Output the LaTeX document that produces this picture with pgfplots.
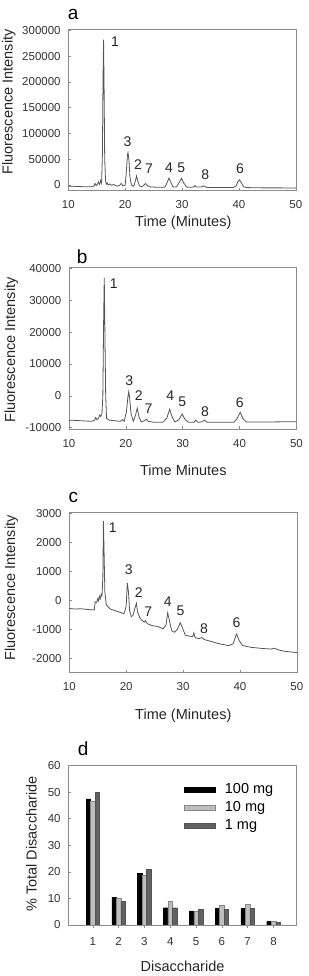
\documentclass[border=0pt]{standalone}
\usepackage{fontspec}
\setmainfont{Liberation Sans}
\usepackage{pgfplots}
\pgfplotsset{compat=1.18}
\definecolor{axgray}{HTML}{8C8C8C}
\definecolor{linegray}{HTML}{555555}
\definecolor{lightbar}{HTML}{BEBEBE}
\definecolor{lightedge}{HTML}{858585}
\definecolor{darkbar}{HTML}{626262}
\newcommand{\tickfont}{\fontsize{11.5bp}{13bp}\selectfont}
\newcommand{\labfont}{\fontsize{14.5bp}{16bp}\selectfont}
\newcommand{\pkfont}{\fontsize{14bp}{16bp}\selectfont}
\newcommand{\letfont}{\fontsize{19bp}{21bp}\selectfont}
\pgfplotsset{
  chrom/.style={
    scale only axis, width=227.5bp, anchor=south west,
    xmin=10, xmax=50, xtick={10,20,30,40,50},
    axis line style={axgray, line width=0.6bp},
    tick style={axgray, line width=0.6bp},
    tick align=inside, major tick length=2.5bp,
    minor tick num=0,
    xtick pos=bottom, ytick pos=left,
    ticklabel style={font=\tickfont, text=black!80},
    yticklabel style={inner sep=0pt, anchor=east, xshift=-7.5bp},
    xticklabel style={inner sep=0pt, anchor=north, yshift=-10bp},
    scaled ticks=false,
    /pgf/number format/fixed, /pgf/number format/1000 sep={}, /pgf/number format/assume math mode=true,
  },
}
\tikzset{pk/.style={font=\pkfont, text=black!85, inner sep=0pt}}
\begin{document}
\begin{tikzpicture}
\path[use as bounding box] (0,0) rectangle (309bp,976bp);
% ---------------- panel a
\begin{axis}[chrom, at={(68.3bp,785.3bp)}, height=161.4bp,
  ymin=-11000, ymax=302000, ytick={0,50000,100000,150000,200000,250000,300000}]
\addplot[linegray, line width=0.8bp] coordinates {
(10,-2000) (11,-2500) (12,-3000) (13,-3500) (14,-3500) (14.5,-2000) (14.7,3000) (14.9,-1000)
(15.1,1000) (15.3,6000) (15.5,1000) (15.7,9000) (15.85,4000) (16.0,60000) (16.1,200000)
(16.2,282000) (16.3,180000) (16.4,50000) (16.55,8000) (16.7,2000) (16.85,4000) (17.0,0)
(17.3,2000) (17.6,-500) (18,1000) (18.5,-2000) (19,-1000) (19.3,3000) (19.6,-2000) (20.0,0)
(20.2,25000) (20.4,58000) (20.5,63000) (20.65,50000) (20.85,15000) (21.1,0) (21.5,-2500)
(21.8,8000) (22.0,17500) (22.2,9000) (22.5,-2000) (23.0,-3000) (23.4,1000) (23.6,3000)
(23.8,0) (24.3,-3500) (25,-4000) (26,-4500) (27,-4000) (27.3,3000) (27.7,13500) (28.0,6000)
(28.4,-3500) (29,-4000) (29.4,3000) (29.9,13000) (30.3,4000) (30.8,-4000) (31.5,-4500)
(32.1,-3500) (32.3,-1000) (32.5,-4000) (33.3,-4000) (33.8,-1500) (34.3,-4500) (35,-5000)
(37,-5000) (39,-5000) (39.5,-2000) (39.8,6000) (40.1,10000) (40.4,5000) (40.8,-3500)
(41.5,-5000) (44,-5500) (47,-5500) (50,-6000)};
\node[pk] at (axis cs:18.2,278600) {1};
\node[pk] at (axis cs:20.4,85000) {3};
\node[pk] at (axis cs:22.25,40200) {2};
\node[pk] at (axis cs:24.2,31700) {7};
\node[pk] at (axis cs:27.7,34000) {4};
\node[pk] at (axis cs:29.85,34000) {5};
\node[pk] at (axis cs:34.1,21000) {8};
\node[pk] at (axis cs:40.2,31700) {6};
\end{axis}
% ---------------- panel b
\begin{axis}[chrom, at={(69bp,547bp)}, height=161.3bp,
  ymin=-10400, ymax=40200, ytick={-10000,0,10000,20000,30000,40000}]
\addplot[linegray, line width=0.8bp] coordinates {
(10,-7600) (12,-7800) (14,-8000) (14.5,-7600) (14.7,-6800) (14.9,-7500) (15.2,-7000)
(15.4,-6000) (15.6,-6500) (15.8,-5500) (15.95,0) (16.1,25000) (16.2,37000) (16.3,22000)
(16.45,0) (16.6,-7000) (17,-7600) (18,-7800) (19,-8000) (19.4,-7500) (19.7,-8000)
(20.1,-5000) (20.35,-500) (20.5,1300) (20.65,-500) (20.9,-5500) (21.3,-8000) (21.7,-6000)
(22.0,-3900) (22.3,-6500) (22.7,-8200) (23.3,-7800) (23.6,-7300) (23.9,-8000) (25,-8300)
(26.5,-8300) (27.2,-7000) (27.7,-4200) (28.1,-6500) (28.6,-8200) (29.3,-7500) (29.9,-5700)
(30.4,-7400) (31,-8300) (32,-8300) (32.3,-7600) (32.6,-8300) (33.3,-8200) (33.8,-7600)
(34.3,-8300) (36,-8300) (39,-8300) (39.6,-7000) (40.1,-5200) (40.6,-7200) (41.2,-8200)
(45,-8200) (50,-8100)};
\node[pk] at (axis cs:17.87,35300) {1};
\node[pk] at (axis cs:20.6,4800) {3};
\node[pk] at (axis cs:22.26,200) {2};
\node[pk] at (axis cs:23.97,-4040) {7};
\node[pk] at (axis cs:27.8,0) {4};
\node[pk] at (axis cs:29.9,-1850) {5};
\node[pk] at (axis cs:33.9,-4830) {8};
\node[pk] at (axis cs:40.04,-2200) {6};
\end{axis}
% ---------------- panel c
\begin{axis}[chrom, at={(69.3bp,303.7bp)}, height=159.6bp,
  ymin=-2480, ymax=3020, ytick={-2000,-1000,0,1000,2000,3000}]
\addplot[linegray, line width=0.8bp] coordinates {
(10,-280) (11,-300) (12,-290) (13,-310) (14,-330) (14.4,-320) (14.55,-50) (14.8,-80)
(15.0,60) (15.15,-20) (15.3,140) (15.45,50) (15.6,200) (15.75,150) (15.9,800) (16.0,2730)
(16.1,1800) (16.25,300) (16.5,-150) (16.8,-220) (17.2,-300) (18,-350) (19,-420) (19.6,-460)
(19.8,-350) (20.0,-200) (20.2,600) (20.4,300) (20.6,-350) (20.9,-560) (21.2,-520) (21.5,-300)
(21.8,-100) (22.0,-400) (22.4,-600) (22.8,-700) (23.2,-750) (23.4,-700) (23.7,-800)
(24.5,-870) (25.5,-900) (26.5,-980) (27.0,-850) (27.3,-430) (27.6,-700) (28.0,-1050)
(28.5,-1100) (29.0,-1000) (29.5,-770) (29.9,-950) (30.4,-1200) (31,-1230) (31.7,-1250)
(31.9,-1120) (32.1,-1280) (32.8,-1320) (33.3,-1280) (33.7,-1350) (35,-1420) (36,-1480)
(37,-1520) (38,-1560) (38.8,-1500) (39.4,-1160) (39.9,-1400) (40.5,-1560) (42,-1620)
(44,-1660) (45.5,-1680) (46,-1650) (47,-1720) (48,-1760) (50,-1800)};
\node[pk] at (axis cs:17.65,2520) {1};
\node[pk] at (axis cs:20.45,1050) {3};
\node[pk] at (axis cs:22.2,280) {2};
\node[pk] at (axis cs:23.9,-400) {7};
\node[pk] at (axis cs:27.3,-60) {4};
\node[pk] at (axis cs:29.56,-360) {5};
\node[pk] at (axis cs:33.7,-965) {8};
\node[pk] at (axis cs:39.4,-775) {6};
\end{axis}
% ---------------- panel d
\begin{axis}[scale only axis, width=228.4bp, height=159.3bp, anchor=south west,
  at={(68.3bp,51bp)},
  xmin=0.05, xmax=8.9, ymin=0, ymax=60,
  xtick={1,2,3,4,5,6,7,8}, ytick={0,10,20,30,40,50,60},
  axis line style={axgray, line width=0.6bp},
  tick style={axgray, line width=0.6bp},
  tick align=inside, major tick length=2.5bp,
  xtick pos=bottom, ytick pos=left,
  ticklabel style={font=\tickfont, text=black!80},
  yticklabel style={inner sep=0pt, anchor=east, xshift=-7.5bp},
  xticklabel style={inner sep=0pt, anchor=north, yshift=-10bp},
  /pgf/number format/assume math mode=true,
  ybar, bar width=4.5bp,
  legend style={draw=none, fill=none, at={(axis description cs:0.5035,0.891)}, anchor=north west,
    font=\labfont, inner sep=0pt, row sep=4.5bp,
    nodes={inner sep=0pt, text height=10.5bp, text depth=3bp}},
  legend cell align=left,
  /tikz/every odd column/.append style={column sep=9.3bp},
  legend image code/.code={\fill[#1] (0bp,-2.6bp) rectangle (31.7bp,2.6bp);},
]
\addplot[fill=black, draw=black, bar shift=-4.5bp] coordinates {
(1,47.5) (2,10.5) (3,19.5) (4,6.5) (5,5.3) (6,6.3) (7,6.3) (8,1.3)};
\addlegendentry{100 mg}
\addplot[fill=lightbar, draw=lightedge, bar shift=0bp] coordinates {
(1,46.5) (2,10.2) (3,18.8) (4,8.8) (5,5.3) (6,7.5) (7,7.7) (8,1.5)};
\addlegendentry{10 mg}
\addplot[fill=darkbar, draw=darkbar!85!black, bar shift=4.5bp] coordinates {
(1,50) (2,8.8) (3,21) (4,6.5) (5,5.8) (6,6) (7,6.3) (8,1.1)};
\addlegendentry{1 mg}
\end{axis}
% ---------------- letters and labels
\node[font=\letfont, anchor=base west, inner sep=0pt] at (67.7bp,956bp) {a};
\node[font=\letfont, anchor=base west, inner sep=0pt] at (76.7bp,712.7bp) {b};
\node[font=\letfont, anchor=base west, inner sep=0pt] at (68.3bp,473bp) {c};
\node[font=\letfont, anchor=base west, inner sep=0pt] at (77.7bp,220.3bp) {d};
\node[font=\labfont, anchor=base, inner sep=0pt, text=black!85] at (183.3bp,749.8bp) {Time (Minutes)};
\node[font=\labfont, anchor=base, inner sep=0pt, text=black!85] at (183.3bp,500.6bp) {Time Minutes};
\node[font=\labfont, anchor=base, inner sep=0pt, text=black!85] at (183.3bp,256.3bp) {Time (Minutes)};
\node[font=\labfont, anchor=base, inner sep=0pt, text=black!85] at (182.5bp,4.3bp) {Disaccharide};
\node[font=\labfont, anchor=base, inner sep=0pt, rotate=90, text=black!85] at (12.5bp,874bp) {Fluorescence Intensity};
\node[font=\labfont, anchor=base, inner sep=0pt, rotate=90, text=black!85] at (15bp,626bp) {Fluorescence Intensity};
\node[font=\labfont, anchor=base, inner sep=0pt, rotate=90, text=black!85] at (15bp,388bp) {Fluorescence Intensity};
\node[font=\labfont, anchor=base, inner sep=0pt, rotate=90, text=black!85] at (36.5bp,132bp) {\% Total Disaccharide};
\end{tikzpicture}
\end{document}
